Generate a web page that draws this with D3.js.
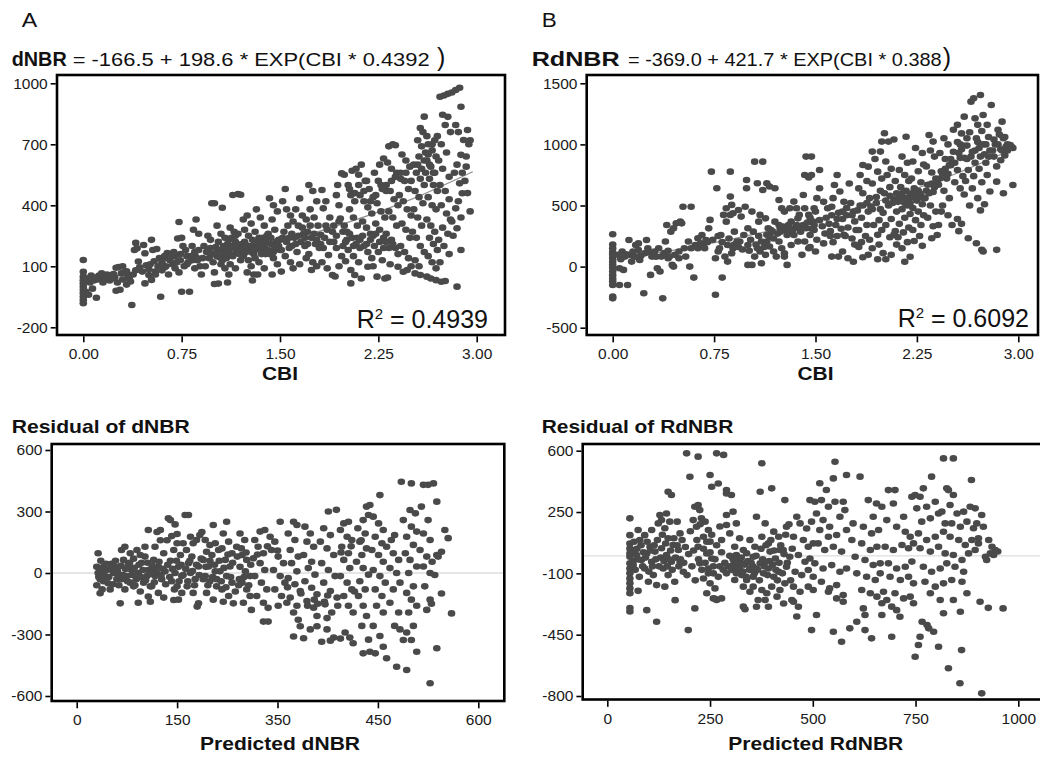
<!DOCTYPE html>
<html>
<head>
<meta charset="utf-8">
<script src="https://cdn.jsdelivr.net/npm/d3@7"></script>
<style>
    body { margin: 0; background: #fff; }
    svg { display: block; font-family: "Liberation Sans", Arial, Helvetica, sans-serif; }
</style>
</head>
<body>
<svg id="chart" width="1040" height="759"></svg>
<script>

// ---- tick values and labels ----
const cbiTicks = [0, 0.75, 1.5, 2.25, 3];
const cbiTickLabels = ["0.00", "0.75", "1.50", "2.25", "3.00"];
const dnbrTicks = [-200, 100, 400, 700, 1000];
const dnbrTickLabels = ["-200", "100", "400", "700", "1000"];
const rdnbrTicks = [-500, 0, 500, 1000, 1500];
const rdnbrTickLabels = ["-500", "0", "500", "1000", "1500"];
const predDnbrTicks = [0, 150, 300, 450, 600];
const predDnbrTickLabels = ["0", "150", "350", "450", "600"];
const residDnbrTicks = [-600, -300, 0, 300, 600];
const residDnbrTickLabels = ["-600", "-300", "0", "300", "600"];
const predRdnbrTicks = [0, 250, 500, 750, 1000];
const predRdnbrTickLabels = ["0", "250", "500", "750", "1000"];
const residRdnbrTicks = [-800, -450, -100, 250, 600];
const residRdnbrTickLabels = ["-800", "-450", "-100", "250", "600"];

// ---- fitted curves ----
const dnbrFit = [[0.1, 40], [0.5, 81], [1, 142], [1.5, 217], [2, 312], [2.5, 429], [2.97, 565]];
const rdnbrFit = [[0, 53], [0.5, 143], [1, 253], [1.5, 386], [2, 547], [2.5, 743], [2.95, 956]];

// ---- scatter: CBI vs dNBR ----
const dnbrPoints = [
[0,131],[0,73],[0,49],[0,32],[0,16],[0,0],[0,-17],[0,-33],[0,-50],[0,-66],[0,-82],
[0.03,40],[0.05,20],[0.06,55],[0.08,30],[0.07,-10],[0.1,-55],[0.04,-40],[0.02,-25],
[0.12,55],[0.14,65],[0.16,45],[0.18,60],[0.2,30],[0.15,20],
[0.25,93],[0.27,96],[0.3,100],[0.25,-20],[0.28,-15],[0.22,40],[0.26,20],[0.3,35],
[0.37,-90],[0.33,10],[0.35,40],[0.38,60],[0.4,80],[0.39,180],[0.4,215],[0.36,25],
[0.41,189],[0.46,205],[0.47,164],[0.52,230],[0.42,123],[0.45,74],[0.5,57],[0.52,33],[0.47,16],[0.55,74],
[0.53,180],[0.56,185],[0.58,140],[0.6,120],[0.57,100],[0.59,-50],[0.55,60],[0.6,80],
[0.62,150],[0.64,165],[0.66,130],[0.68,110],[0.7,90],[0.63,100],[0.65,60],[0.7,150],[0.69,170],
[0.72,237],[0.73,318],[0.75,240],[0.76,200],[0.78,180],[0.74,130],[0.77,100],[0.8,120],[0.75,-25],[0.73,70],[0.79,150],
[0.81,-25],[0.86,330],[0.84,280],[0.88,260],[0.83,200],[0.85,170],[0.87,130],[0.89,100],[0.82,150],[0.9,60],[0.85,90],
[0.98,410],[1.0,410],[0.95,250],[0.97,230],[0.92,200],[0.94,170],[0.96,140],[0.99,120],[0.93,100],[1.0,70],[0.97,190],[0.91,140],
[1.06,388],[1.02,300],[1.05,260],[1.08,240],[1.03,220],[1.01,195],[1.04,180],[1.07,160],[1.09,140],[1.0,13],[1.03,15],[1.1,20],[1.05,110],[1.08,90],[1.02,150],[1.1,210],[1.06,130],
[1.14,451],[1.18,455],[1.2,452],[1.12,290],[1.15,270],[1.13,240],[1.16,220],[1.19,200],[1.11,180],[1.17,170],[1.14,150],[1.2,130],[1.12,110],[1.18,260],[1.16,90],[1.11,60],[1.2,180],
[1.22,330],[1.25,350],[1.28,310],[1.23,280],[1.26,250],[1.29,230],[1.21,210],[1.24,190],[1.27,175],[1.3,160],[1.22,150],[1.26,130],[1.28,100],[1.3,60],[1.25,70],[1.29,30],[1.27,200],[1.23,220],
[1.32,380],[1.35,340],[1.38,300],[1.31,270],[1.34,240],[1.37,220],[1.33,200],[1.36,180],[1.39,160],[1.31,140],[1.34,120],[1.38,90],[1.4,250],[1.35,210],[1.33,60],[1.37,240],
[1.42,435],[1.45,400],[1.48,370],[1.44,330],[1.46,280],[1.41,260],[1.43,240],[1.47,220],[1.49,200],[1.5,180],[1.42,160],[1.45,140],[1.48,110],[1.44,60],[1.5,230],[1.46,190],
[1.54,480],[1.52,420],[1.55,380],[1.58,350],[1.56,300],[1.53,270],[1.57,240],[1.59,200],[1.51,180],[1.54,150],[1.58,120],[1.6,90],[1.51,74],[1.6,320],
[1.65,434],[1.62,380],[1.67,350],[1.64,300],[1.68,260],[1.61,240],[1.66,220],[1.69,200],[1.63,170],[1.7,140],[1.65,110],[1.7,330],
[1.72,500],[1.75,470],[1.78,420],[1.73,380],[1.76,340],[1.79,300],[1.71,270],[1.74,240],[1.77,210],[1.8,190],[1.72,160],[1.75,120],[1.74,82],[1.78,100],
[1.82,475],[1.83,385],[1.85,420],[1.88,340],[1.9,270],[1.81,255],[1.83,190],[1.87,155],[1.91,220],[1.82,120],[1.86,90],[1.9,57],[1.92,50],[1.85,300],
[1.97,557],[1.99,550],[1.93,450],[1.95,400],[1.96,335],[1.98,270],[2.0,220],[1.93,190],[1.97,150],[2.0,125],[1.95,100],[1.94,500],[1.99,300],
[2.05,570],[2.08,580],[2.1,550],[2.02,500],[2.04,450],[2.07,420],[2.03,380],[2.06,340],[2.09,300],[2.01,270],[2.05,240],[2.08,210],[2.02,180],[2.06,150],[2.1,120],[2.04,82],[2.07,57],[2.04,16],[2.12,40],
[2.12,600],[2.15,520],[2.18,480],[2.11,450],[2.14,420],[2.17,390],[2.2,360],[2.13,320],[2.16,290],[2.19,260],[2.11,230],[2.14,200],[2.17,170],[2.2,140],[2.17,98],[2.16,520],
[2.22,560],[2.25,520],[2.28,480],[2.21,440],[2.24,410],[2.27,370],[2.3,340],[2.23,310],[2.26,280],[2.29,240],[2.22,200],[2.25,170],[2.28,130],[2.21,100],[2.24,49],[2.3,40],[2.26,600],[2.29,630],
[2.33,690],[2.36,700],[2.38,695],[2.32,610],[2.35,580],[2.38,540],[2.31,500],[2.34,470],[2.37,430],[2.4,400],[2.33,370],[2.36,340],[2.39,300],[2.31,260],[2.35,230],[2.38,190],[2.4,160],[2.34,110],[2.4,98],[2.32,45],
[2.43,650],[2.46,620],[2.49,590],[2.42,560],[2.45,520],[2.48,480],[2.41,450],[2.44,420],[2.47,380],[2.5,350],[2.43,310],[2.46,280],[2.49,240],[2.42,200],[2.45,170],[2.48,140],[2.5,100],[2.44,73],[2.47,82],
[2.6,836],[2.57,780],[2.59,760],[2.62,740],[2.55,720],[2.58,690],[2.61,660],[2.56,640],[2.52,600],[2.54,560],[2.57,530],[2.6,500],[2.53,470],[2.56,440],[2.59,410],[2.52,380],[2.55,340],[2.58,300],[2.51,270],[2.54,240],[2.57,200],[2.6,170],[2.53,130],[2.56,100],[2.53,65],[2.57,57],[2.62,49],
[2.63,700],[2.66,670],[2.69,640],[2.62,620],[2.65,590],[2.68,560],[2.64,530],[2.67,500],[2.7,470],[2.63,440],[2.66,400],[2.69,380],[2.62,330],[2.65,300],[2.68,270],[2.64,240],[2.67,210],[2.7,180],[2.63,150],[2.66,120],[2.69,90],[2.65,40],[2.69,32],
[2.72,934],[2.75,940],[2.78,948],[2.81,955],[2.74,845],[2.78,835],[2.76,795],[2.8,760],[2.73,700],[2.77,660],[2.71,620],[2.74,580],[2.79,540],[2.72,500],[2.76,470],[2.79,430],[2.73,400],[2.77,360],[2.8,330],[2.74,290],[2.78,260],[2.71,230],[2.75,200],[2.79,160],[2.72,120],[2.73,24],[2.76,28],
[2.84,967],[2.87,978],[2.88,885],[2.84,795],[2.86,760],[2.9,721],[2.88,648],[2.85,600],[2.89,560],[2.87,508],[2.89,459],[2.86,420],[2.84,385],[2.88,340],[2.85,287],[2.88,180],[2.85,0],[2.82,250],[2.81,320],[2.83,560],
[2.93,770],[2.95,720],[2.94,700],[2.92,640],[2.95,370],[2.93,460],[2.91,520],[2.92,590],
[0.09,45],[0.11,35],[0.13,48],[0.17,38],[0.19,50],[0.21,55],[0.23,62],[0.24,45],[0.29,65],[0.31,70],[0.33,75],[0.34,55],
[0.43,95],[0.48,105],[0.51,110],[0.54,125],[0.61,140],[0.67,155],[0.71,120],[0.74,160],[0.79,110],[0.83,130],[0.86,145],[0.88,180],[0.62,95],[0.5,85],
[0.95,175],[0.98,160],[1.01,165],[1.04,145],[1.07,200],[1.09,175],[1.12,160],[1.13,200],[1.15,190],[1.17,210],[1.19,160],[1.21,175],[1.23,165],[1.24,205],[1.26,190],[1.28,170],[1.29,200],[1.31,180],[1.33,220],[1.35,190],[1.36,160],[1.38,200],[1.39,225],[1.41,180],[1.43,210],[1.45,170],[1.47,195],[1.49,230],[1.11,230],[1.16,250],
[1.52,240],[1.55,220],[1.57,190],[1.59,260],[1.62,210],[1.64,250],[1.67,290],[1.69,240],[1.71,210],[1.73,300],[1.76,260],[1.78,230],[1.81,210],[1.84,240],[1.86,280],[1.88,220],[1.91,300],[1.93,250],[1.95,320],[1.98,200],[2.01,230],[2.03,260],[2.06,200],[2.09,240],[2.11,190],[2.13,250],[2.16,210],[2.19,230],[2.21,250],[2.23,260],[2.26,220],[2.29,190],[2.31,220],[2.33,190],[2.36,210],
[2.03,480],[2.07,460],[2.1,500],[2.14,470],[2.19,420],[2.23,450],[2.27,500],[2.31,470],[2.35,520],[2.39,560],[2.42,530],[2.46,560],[2.5,520],
[2.55,600],[2.58,580],[2.61,560],[2.64,600],[2.67,560],[2.6,620],[2.63,650],[2.66,700],[2.68,720],[2.7,740]
];

// ---- scatter: CBI vs RdNBR ----
const rdnbrPoints = [
[0,265],[0,180],[0,150],[0,120],[0,100],[0,70],[0,40],[0,15],[0,-10],[0,-40],[0,-70],[0,-100],[0,-120],[0,-150],[0,-245],[0,-260],
[0.04,96],[0.07,123],[0.09,82],[0.05,-14],[0.08,-27],[0.05,-150],[0.11,-150],[0.12,218],
[0.13,96],[0.15,123],[0.17,177],[0.19,190],[0.18,82],[0.2,55],[0.14,41],[0.19,136],[0.23,-218],
[0.25,218],[0.26,150],[0.29,82],[0.31,123],[0.28,-68],[0.33,-14],[0.35,-40],
[0.37,-260],[0.34,150],[0.36,82],[0.39,205],[0.4,341],[0.43,286],[0.41,68],[0.44,14],[0.42,82],[0.45,314],[0.47,354],[0.5,368],
[0.45,0],[0.46,96],[0.49,68],[0.51,354],[0.52,490],[0.58,490],[0.49,123],[0.53,150],[0.56,205],
[0.57,0],[0.6,-90],[0.54,82],[0.58,150],[0.61,177],[0.63,232],
[0.63,150],[0.65,191],[0.68,150],[0.69,218],[0.71,313],[0.72,382],[0.66,259],[0.73,777],[0.76,68],[0.76,-230],
[0.77,641],[0.78,123],[0.79,150],[0.8,259],[0.82,423],[0.83,82],[0.85,41],[0.87,777],[0.87,573],[0.81,-90],
[0.84,477],[0.87,423],[0.88,505],[0.89,436],[0.9,286],[0.92,205],[0.89,150],[0.88,109],[0.85,177],[0.84,368],
[0.93,463],[0.95,409],[0.98,490],[0.99,709],[0.99,641],[1.0,314],[0.97,259],[0.94,205],[1.0,177],[1.0,14],[1.03,14],
[1.05,859],[1.11,859],[1.07,682],[1.11,627],[1.08,368],[1.04,286],[1.1,205],[1.07,150],[1.09,123],[1.05,82],[1.1,27],[1.03,450],[1.09,423],
[1.14,682],[1.16,655],[1.2,641],[1.13,395],[1.15,314],[1.18,286],[1.2,368],[1.14,205],[1.16,164],[1.19,123],[1.21,82],[1.13,96],[1.16,245],
[1.23,545],[1.25,477],[1.27,450],[1.23,341],[1.24,286],[1.26,327],[1.29,259],[1.23,205],[1.25,150],[1.27,82],[1.29,14],[1.27,109],[1.3,341],
[1.31,477],[1.34,532],[1.36,477],[1.37,395],[1.32,368],[1.35,314],[1.39,286],[1.34,259],[1.37,205],[1.32,177],[1.4,96],[1.38,423],
[1.41,586],[1.42,750],[1.43,900],[1.45,730],[1.42,477],[1.45,423],[1.47,368],[1.43,314],[1.46,259],[1.42,205],[1.45,150],[1.48,368],[1.5,450],
[1.47,900],[1.53,790],[1.47,750],[1.66,750],[1.53,641],[1.51,560],[1.56,530],[1.49,477],[1.59,477],[1.46,400],[1.53,380],[1.6,350],[1.49,300],[1.57,270],[1.51,220],[1.46,160],[1.5,123],[1.56,190],[1.61,250],
[1.64,668],[1.68,614],[1.63,560],[1.71,530],[1.62,490],[1.67,440],[1.7,390],[1.65,340],[1.61,290],[1.69,310],[1.66,250],[1.71,260],[1.63,200],[1.7,123],[1.62,82],[1.67,82],
[1.75,680],[1.76,520],[1.78,450],[1.73,420],[1.79,370],[1.74,320],[1.8,300],[1.72,250],[1.77,230],[1.79,180],[1.74,68],[1.78,40],[1.85,77],
[1.85,832],[1.89,818],[1.83,750],[1.88,700],[1.82,640],[1.85,600],[1.9,560],[1.83,500],[1.89,450],[1.84,400],[1.88,340],[1.82,300],[1.87,250],[1.9,220],[1.84,200],[1.89,96],[1.82,160],
[2.01,1091],[1.99,1023],[1.98,941],[1.92,941],[1.94,880],[1.96,777],[1.99,720],[1.92,680],[1.98,620],[1.95,570],[1.91,490],[2.0,440],[1.97,380],[1.93,340],[1.99,300],[1.96,260],[1.92,150],[1.97,180],[2.0,110],[1.96,60],
[2.04,1023],[2.08,1040],[2.02,860],[2.06,800],[2.03,750],[2.09,700],[2.05,650],[2.01,600],[2.08,550],[2.04,500],[2.1,450],[2.06,390],[2.02,340],[2.09,290],[2.05,240],[2.1,180],[2.06,96],[2.02,60],[2.08,260],
[2.17,1063],[2.14,900],[2.18,850],[2.12,790],[2.16,750],[2.19,700],[2.13,650],[2.17,620],[2.2,590],[2.15,560],[2.11,530],[2.18,500],[2.14,470],[2.2,430],[2.16,400],[2.12,350],[2.19,320],[2.15,280],[2.11,240],[2.18,200],[2.14,150],[2.2,80],[2.16,40],
[2.24,970],[2.29,930],[2.22,860],[2.3,835],[2.26,780],[2.21,720],[2.28,690],[2.23,640],[2.27,600],[2.21,570],[2.25,540],[2.29,510],[2.22,480],[2.26,450],[2.3,420],[2.24,380],[2.28,340],[2.22,300],[2.27,250],[2.23,210],[2.29,170],
[2.34,1077],[2.37,1023],[2.35,950],[2.38,900],[2.32,820],[2.36,770],[2.39,720],[2.33,670],[2.37,610],[2.31,560],[2.35,500],[2.39,450],[2.33,400],[2.37,330],[2.4,259],[2.36,232],
[2.45,1050],[2.48,1000],[2.42,930],[2.46,880],[2.49,830],[2.43,780],[2.47,720],[2.41,670],[2.45,620],[2.49,560],[2.44,500],[2.41,341],[2.48,420],[2.43,450],
[2.6,1227],[2.55,1160],[2.52,1120],[2.58,1090],[2.55,1020],[2.59,990],[2.52,940],[2.57,890],[2.5,830],[2.55,790],[2.59,740],[2.53,690],[2.57,640],[2.6,590],[2.55,390],[2.56,290],[2.58,350],[2.51,341],
[2.67,1377],[2.72,1404],[2.65,1350],[2.68,1213],[2.7,1160],[2.64,1100],[2.69,1050],[2.62,990],[2.66,940],[2.6,890],[2.68,850],[2.63,790],[2.67,740],[2.61,700],[2.66,640],[2.7,560],[2.63,232],[2.69,191],[2.73,137],[2.64,500],
[2.74,1241],[2.77,1160],[2.8,1323],[2.73,1110],[2.78,1060],[2.74,1000],[2.79,950],[2.72,900],[2.76,850],[2.71,800],[2.77,750],[2.73,690],[2.79,614],[2.75,510],[2.72,460],[2.74,123],[2.84,137],
[2.88,1186],[2.85,1120],[2.89,1050],[2.83,1000],[2.87,960],[2.91,982],[2.94,995],[2.9,910],[2.87,870],[2.84,820],[2.84,695],[2.89,600],[2.96,668],[2.92,950],[2.96,970],[2.82,900],
[0.06,60],[0.1,100],[0.16,80],[0.21,90],[0.24,110],[0.27,120],[0.3,100],[0.32,80],[0.38,110],[0.41,130],
[0.67,180],[0.7,200],[0.74,220],[0.78,250],[0.81,200],[0.86,230],[0.9,180],[0.93,160],[0.96,140],[1.01,130],[1.02,220],[1.06,180],[1.08,250],[1.12,160],[1.14,260],[1.17,300],[1.19,230],[1.22,270],[1.24,310],[1.28,300],[1.3,280],[1.33,300],[1.36,340],[1.39,320],[1.41,340],[1.44,360],[1.47,310],[1.49,340],
[1.55,330],[1.58,400],[1.62,420],[1.66,390],[1.7,450],[1.73,480],[1.77,420],[1.81,460],[1.85,500],[1.88,520],[1.92,470],[1.95,520],[1.98,470],[2.02,540],[2.05,580],[2.07,520],[2.1,600],[2.12,560],[2.14,600],[2.16,520],[2.18,560],[2.2,520],[2.22,600],[2.24,560],[2.26,620],[2.28,580],[2.3,560],[2.32,620],[2.34,600],[2.36,680],[2.38,650],[2.4,700],[2.42,720],[2.44,760],[2.46,800],[2.48,760],[2.5,880],[2.53,850],[2.56,930],[2.58,960],[2.62,880],[2.65,900],[2.68,950],[2.71,970],[2.75,920],[2.78,900],[2.81,950],[2.85,1000],[2.88,950],[2.92,1000],[2.95,980],[2.9,1060],[2.86,1080],[2.82,1040],[2.76,1000],[2.7,1020],[2.62,1050],[2.57,1000]
];

// ---- residuals: predicted dNBR vs residual ----
const dnbrResiduals = [
[32,96],[30,30],[32,0],[35,-30],[30,-60],[35,-99],[40,30],[42,-15],[47,-50],[52,45],[57,30],[50,-80],[55,0],[60,-30],[65,-148],[67,112],[38,-80],[45,15],[33,-20],[36,60],
[72,128],[80,96],[70,64],[77,40],[82,15],[75,-15],[67,-30],[80,-47],[72,-80],[85,-65],[92,-145],[85,70],[62,-5],
[90,112],[95,88],[102,80],[97,50],[107,15],[92,0],[105,-15],[100,-47],[110,-65],[95,-90],[107,-115],[110,-140],[107,210],[102,128],[87,-60],
[120,200],[125,160],[117,128],[130,96],[115,64],[122,30],[132,8],[117,-15],[127,-30],[112,-65],[122,-97],[130,-120],[135,160],[137,267],[125,210],[112,20],
[140,258],[147,237],[142,180],[150,145],[145,112],[155,88],[140,60],[152,30],[147,0],[157,-15],[142,-40],[150,-65],[157,-97],[145,-132],[152,-130],[159,145],[162,283],[167,283],[150,190],
[170,177],[174,145],[164,112],[179,161],[172,80],[167,48],[182,32],[170,0],[177,-30],[165,-65],[174,-97],[182,-148],[180,-164],[184,185],[187,200],
[192,161],[199,136],[194,104],[204,234],[202,88],[189,64],[197,32],[207,8],[192,-15],[199,-40],[209,-65],[194,-97],[204,-130],[212,112],[207,145],
[224,250],[219,193],[227,153],[217,120],[232,96],[222,64],[229,32],[214,8],[224,-15],[232,-47],[217,-80],[227,-112],[234,-148],[219,-140],
[244,193],[251,161],[239,128],[247,88],[254,64],[244,30],[252,8],[259,-15],[247,-47],[254,-80],[259,-112],[249,-145],[261,-180],[242,-60],
[274,202],[281,210],[266,161],[271,128],[279,96],[264,72],[274,48],[281,15],[266,-15],[276,-47],[284,-80],[269,-112],[279,-145],[286,-170],[279,-237],[286,-237],
[289,177],[296,153],[304,250],[291,112],[301,80],[309,48],[294,15],[304,-15],[311,-47],[296,-80],[306,-112],[314,-145],[301,-160],
[324,250],[329,234],[316,193],[326,161],[319,112],[331,80],[321,48],[329,8],[316,-25],[326,-55],[334,-88],[319,-120],[329,-160],[324,-193],[331,-228],[334,-260],[324,-310],[339,-318],
[341,226],[349,193],[344,153],[354,128],[339,88],[351,55],[346,24],[356,-8],[341,-40],[351,-72],[359,-104],[344,-137],[354,-169],[359,-210],[349,-275],[366,-335],[359,-260],
[376,300],[388,308],[369,218],[379,185],[364,153],[374,120],[384,88],[366,48],[376,15],[386,-15],[369,-47],[379,-88],[389,-120],[371,-153],[381,-193],[374,-275],[384,-315],[379,-330],[394,-320],[374,-220],
[399,242],[406,250],[394,210],[404,177],[411,161],[396,128],[406,96],[399,64],[408,24],[394,-15],[404,-47],[411,-80],[399,-112],[406,-160],[413,-193],[401,-290],[408,-315],[413,-343],
[433,324],[438,332],[428,258],[436,283],[420,218],[431,193],[423,153],[433,120],[426,88],[418,55],[428,24],[436,-8],[423,-40],[431,-80],[421,-112],[428,-160],[433,-210],[426,-258],[436,-325],[428,-392],[438,-384],
[453,380],[443,275],[451,242],[458,210],[446,177],[456,145],[441,112],[451,88],[458,55],[443,15],[453,-15],[461,-47],[446,-80],[456,-112],[448,-160],[458,-193],[443,-258],[453,-307],[463,-416],[446,-392],[458,-360],
[470,161],[475,185],[463,128],[473,96],[481,64],[468,24],[478,0],[483,-47],[473,-80],[468,-145],[481,-193],[475,-258],[483,-275],[478,-457],[493,-473],[488,-327],[485,445],[500,437],
[498,307],[506,291],[488,258],[500,226],[508,202],[493,177],[503,137],[491,96],[498,64],[508,32],[496,0],[503,-65],[493,-97],[500,-130],[508,-160],[496,-193],[503,-258],[493,-290],[500,-327],[508,-384],
[518,430],[525,430],[515,324],[525,258],[518,193],[528,161],[513,112],[523,80],[518,32],[528,0],[520,-65],[528,-130],[523,-180],[528,-538],[538,-367],[530,-150],
[533,437],[538,348],[550,210],[555,170],[545,104],[538,88],[531,55],[545,-100],[560,-197],[540,80],[535,-10],
[37,10],[40,-40],[44,45],[48,-20],[51,20],[54,-55],[58,60],[61,10],[63,-60],[66,35],[69,-10],[73,20],[76,-40],[79,50],[83,-10],[86,25],[89,-30],[93,40],[96,-20],[99,15],[103,-35],[106,50],[109,-5],[113,35],[116,-45],[119,5],[123,55],[126,-10],[129,20],[133,-55],[136,40],[139,-20],[143,20],[146,-80],[149,60],[153,-40],[156,40],[159,-10],[163,20],[166,-40],[169,60],[173,10],[176,-60],[179,40],[183,-10],[186,70],[189,-30],[193,30],[196,-60],[199,60],[203,-20],[206,40],[209,-30],[213,60],[216,-40],[220,25],[223,-70],[226,90],[230,-20],[233,50],[237,-90],[240,80],[243,-30],[246,120],[250,-20],[253,100],[257,-60],[260,40],
[270,90],[285,130],[300,110],[315,-70],[335,-100],[345,-160],[360,-150],[375,-110],[390,-160],[370,-140],[355,-130],[395,100],[410,130],[425,160],[415,-90]
];

// ---- residuals: predicted RdNBR vs residual ----
const rdnbrResiduals = [
[55,214],[55,118],[55,70],[55,41],[55,13],[55,-5],[55,-43],[55,-72],[55,-100],[55,-129],[55,-157],[55,-186],[55,-214],[55,-298],[55,-318],[67,33],[71,5],[63,-53],[75,-200],[75,147],
[79,90],[91,118],[104,52],[96,13],[83,-24],[108,-34],[91,-72],[112,-110],[100,-148],[120,-167],[96,-310],[120,-376],[108,147],[128,233],[144,242],[124,185],[116,24],
[132,204],[140,157],[152,195],[148,100],[160,62],[132,43],[144,5],[156,-34],[136,-72],[148,-110],[164,-148],[140,-176],[165,-253],[156,347],[148,366],[170,195],[177,128],[173,33],[177,-34],[185,-91],[197,-424],[201,451],[221,566],[193,585],[209,204],
[213,280],[221,290],[225,261],[229,214],[217,166],[238,195],[246,147],[234,109],[250,81],[221,52],[242,13],[254,-15],[225,-43],[246,-72],[258,-100],[234,-129],[250,-157],[262,-186],[242,-214],[258,-243],[266,-252],[250,461],[270,413],[254,394],[290,356],[302,347],[266,585],[283,576],[290,375],[213,-300],[262,-245],[278,-243],
[274,167],[290,233],[306,252],[314,185],[298,128],[322,100],[310,52],[331,33],[314,5],[339,15],[322,-24],[306,-53],[335,-43],[318,-81],[347,-72],[327,-110],[310,-138],[339,-138],[355,-119],[331,-176],[347,-205],[367,-252],[331,-290],[335,-305],[376,528],[372,366],[400,385],[363,223],[384,185],[290,176],[278,90],
[347,90],[359,52],[376,109],[392,71],[405,138],[417,109],[355,-5],[372,-43],[384,-34],[396,24],[409,-15],[420,33],[363,-72],[380,-100],[392,-72],[405,-119],[417,-91],[355,-176],[376,-195],[388,-214],[400,-176],[413,-233],[420,-195],[384,-252],[363,-291],[392,-291],[429,-272],
[432,318],[436,166],[461,223],[469,185],[485,156],[497,195],[493,318],[505,309],[453,109],[477,90],[489,52],[501,71],[428,33],[444,-5],[465,5],[481,-34],[493,-15],[436,-62],[457,-91],[473,-110],[489,-81],[501,-119],[432,-157],[453,-176],[469,-205],[489,-176],[501,-195],[449,-252],[465,-291],[461,-346],[497,-424],[509,-338],[453,-262],
[517,414],[533,376],[554,537],[550,442],[582,461],[521,318],[538,280],[554,309],[574,309],[509,242],[525,204],[541,166],[566,223],[578,261],[517,147],[538,109],[558,119],[582,147],[513,71],[529,33],[550,52],[570,24],[505,-43],[525,-72],[546,-53],[566,-91],[582,-72],[521,-148],[541,-186],[558,-167],[574,-224],[538,-205],[558,-243],[574,-262],[550,-433],[570,-490],[590,-414],[607,-376],[627,-338],[643,-471],
[615,452],[635,318],[655,299],[647,223],[668,280],[598,185],[623,166],[643,128],[660,147],[595,90],[619,71],[640,33],[656,52],[603,-5],[627,-24],[647,-52],[664,-43],[607,-100],[631,-119],[652,-138],[664,-100],[619,-195],[640,-214],[656,-233],[672,-205],[668,-271],[680,-252],[692,-290],[704,-310],[692,-462],[712,-348],[623,-300],[668,-338],[627,-424],
[684,375],[700,375],[696,299],[721,223],[741,337],[749,347],[680,204],[704,166],[725,137],[737,109],[676,52],[696,33],[717,62],[733,43],[745,71],[684,-43],[704,-72],[725,-62],[741,-33],[688,-119],[713,-138],[733,-119],[745,-157],[700,-214],[721,-243],[737,-233],[745,-271],[766,-376],[778,-395],[761,-462],[757,-509],[749,-576],[794,-433],[782,-414],
[761,337],[769,385],[789,452],[753,271],[777,280],[798,309],[814,252],[765,195],[786,214],[806,242],[822,185],[757,128],[777,90],[798,109],[818,137],[761,43],[786,24],[806,52],[822,14],[769,-62],[789,-91],[810,-72],[826,-43],[773,-148],[798,-176],[818,-157],[786,-214],[810,-252],[818,-328],[806,-519],[830,-642],[818,556],[842,556],[826,385],
[830,375],[842,347],[886,433],[834,290],[851,242],[867,252],[883,280],[895,271],[838,185],[859,166],[875,195],[891,157],[834,109],[855,90],[871,62],[887,90],[903,71],[842,5],[863,-24],[879,14],[895,33],[846,-62],[867,-91],[838,-138],[863,-148],[875,-214],[842,-252],[859,-319],[862,-538],[858,-727],[907,-262],[927,-297],
[911,233],[899,185],[915,166],[928,90],[936,52],[944,33],[932,14],[923,-24],[940,5],[963,-300],[911,-785],[903,100],[920,-5],[950,25],
[60,20],[63,-30],[65,80],[68,-80],[72,40],[75,-20],[78,-120],[82,60],[86,-60],[88,20],[93,-10],[97,80],[101,-90],[105,30],[110,-60],[114,60],[118,-20],[122,90],[126,-60],[130,-10],[134,120],[138,-30],[142,70],[146,-60],[150,-20],[154,30],[158,-80],[162,100],[166,-10],[170,60],[174,-60],[178,-20],[182,90],[186,-40],[190,50],[194,-110],[198,10],[202,140],[206,-60],[210,30],[214,-140],[218,90],[222,-20],[226,180],[230,-80],[234,40],[238,-40],[242,80],[246,-100],[250,20],[254,120],[258,-60],[262,-20],[266,60],[270,-120],[274,-60],[278,20],[282,-80],[286,-40],[290,-100],[294,-60],[298,0],[302,-80],[306,-20],[310,-60],[314,-100],[318,-40],[322,-70],[326,-10],[330,-90],[334,-50],[338,-120],[342,-30],[346,-80],[350,-40],[354,-60],[358,-100],[362,0],[366,-80],[370,-140],[374,40],[378,-20],[382,-60],[386,60],[390,-110],[394,-30],[398,90],[402,-50],[406,30],[410,-80],[414,-140],[418,-40],[422,60],[426,-100],[430,10],[434,120],[438,-40],[442,180],[446,-140],[450,40]
];

// ---- layout of the four panels (pixels) ----
let panels = [
    { points: dnbrPoints, fit: dnbrFit, zero: false,
      xTicks: cbiTicks, xLabels: cbiTickLabels, yTicks: dnbrTicks, yLabels: dnbrTickLabels,
      xRange: [83.3, 476.7], yRange: [327.3, 83.3], frame: [57, 505, 75, 335] },
    { points: rdnbrPoints, fit: rdnbrFit, zero: false,
      xTicks: cbiTicks, xLabels: cbiTickLabels, yTicks: rdnbrTicks, yLabels: rdnbrTickLabels,
      xRange: [612.7, 1018.3], yRange: [327.7, 83.3], frame: [586.7, 1038, 75, 335] },
    { points: dnbrResiduals, fit: null, zero: true,
      xTicks: predDnbrTicks, xLabels: predDnbrTickLabels, yTicks: residDnbrTicks, yLabels: residDnbrTickLabels,
      xRange: [76.7, 478.3], yRange: [696, 450], frame: [51.7, 504.3, 444, 701] },
    { points: rdnbrResiduals, fit: null, zero: true,
      xTicks: predRdnbrTicks, xLabels: predRdnbrTickLabels, yTicks: residRdnbrTicks, yLabels: residRdnbrTickLabels,
      xRange: [607.3, 1018.3], yRange: [696, 450.7], frame: [582.7, 1046, 444, 699.5] }
];

let svg = d3.select("#chart");

function drawPanel(p) {
    let x = d3.scaleLinear()
        .domain([p.xTicks[0], p.xTicks[p.xTicks.length - 1]])
        .range(p.xRange);
    let y = d3.scaleLinear()
        .domain([p.yTicks[0], p.yTicks[p.yTicks.length - 1]])
        .range(p.yRange);
    let f = p.frame;
    let g = svg.append("g");

    if (p.zero) {
        g.append("line")
            .attr("x1", f[0]).attr("x2", f[1])
            .attr("y1", y(0)).attr("y2", y(0))
            .style("stroke", "#dddddd")
            .style("stroke-width", 1.3);
    }

    if (p.fit) {
        let line = d3.line()
            .x(function(d) { return x(d[0]); })
            .y(function(d) { return y(d[1]); })
            .curve(d3.curveMonotoneX);
        g.append("path")
            .datum(p.fit)
            .attr("d", line)
            .style("fill", "none")
            .style("stroke", "#8f8f8f")
            .style("stroke-width", 1.2);
    }

    g.selectAll(".pt").data(p.points)
        .enter().append("ellipse")
        .attr("class", "pt")
        .attr("cx", function(d) { return x(d[0]); })
        .attr("cy", function(d) { return y(d[1]); })
        .attr("rx", 3.8)
        .attr("ry", 3.3)
        .style("fill", "#4a4a4a");

    // frame
    g.append("rect")
        .attr("x", f[0]).attr("y", f[2])
        .attr("width", f[1] - f[0]).attr("height", f[3] - f[2])
        .style("fill", "none")
        .style("stroke", "#000")
        .style("stroke-width", 2.6);

    let yAxis = d3.axisLeft(y)
        .tickValues(p.yTicks)
        .tickFormat(function(d, i) { return p.yLabels[i]; })
        .tickSize(5).tickPadding(3);
    let xAxis = d3.axisBottom(x)
        .tickValues(p.xTicks)
        .tickFormat(function(d, i) { return p.xLabels[i]; })
        .tickSize(6).tickPadding(6);

    let ya = g.append("g").attr("transform", "translate(" + (f[0] - 1.3) + ",0)").call(yAxis);
    let xa = g.append("g").attr("transform", "translate(0," + (f[3] + 1.3) + ")").call(xAxis);
    [ya, xa].forEach(function(a) {
        a.attr("font-family", null).attr("font-size", null);
        a.select(".domain").remove();
        a.selectAll(".tick line").style("stroke", "#000").style("stroke-width", 1.6);
        a.selectAll(".tick text").style("font-size", "15.5px").style("fill", "#1a1a1a");
    });
}

panels.forEach(drawPanel);

// ---- texts ----
function label(txt, x, y, size, weight, anchor, width) {
    let t = svg.append("text")
        .attr("x", x).attr("y", y)
        .attr("text-anchor", anchor || "start")
        .style("font-size", size + "px")
        .style("font-weight", weight || "normal")
        .style("fill", "#111")
        .text(txt);
    if (width) t.attr("textLength", width).attr("lengthAdjust", "spacingAndGlyphs");
    return t;
}

label("A", 21.7, 27, 20, "normal", "start", 15.5);
label("B", 541.7, 27, 20, "normal", "start", 15);

label("dNBR", 11.7, 65.5, 19.5, "bold", "start", 55);
label("= -166.5 + 198.6 * EXP(CBI * 0.4392", 72.7, 65.5, 18.5, "normal", "start", 357);
label(")", 437, 65.5, 25, "normal", "start");

label("RdNBR", 531.7, 65.5, 19.5, "bold", "start", 88);
label("= -369.0 + 421.7 * EXP(CBI * 0.388", 628, 65.5, 18.5, "normal", "start", 313.7);
label(")", 942.7, 65.5, 25, "normal", "start");

label("CBI", 280, 380, 19, "bold", "middle", 36);
label("CBI", 815.5, 380, 19, "bold", "middle", 36);

label("Residual of dNBR", 11.7, 433, 18.5, "bold", "start", 178);
label("Residual of RdNBR", 541.7, 432.7, 18.5, "bold", "start", 191.6);
label("Predicted dNBR", 280, 750, 18.5, "bold", "middle", 160);
label("Predicted RdNBR", 815.8, 750, 18.5, "bold", "middle", 175);

function rsq(val, xEnd, yBase) {
    let t = svg.append("text")
        .attr("x", xEnd).attr("y", yBase)
        .attr("text-anchor", "end")
        .style("font-size", "25px")
        .style("fill", "#111");
    t.append("tspan").text("R");
    t.append("tspan").attr("dy", -9).style("font-size", "15px").text("2");
    t.append("tspan").attr("dy", 9).text(" = " + val);
}
rsq("0.4939", 488, 328);
rsq("0.6092", 1029, 327);

</script>
</body>
</html>
